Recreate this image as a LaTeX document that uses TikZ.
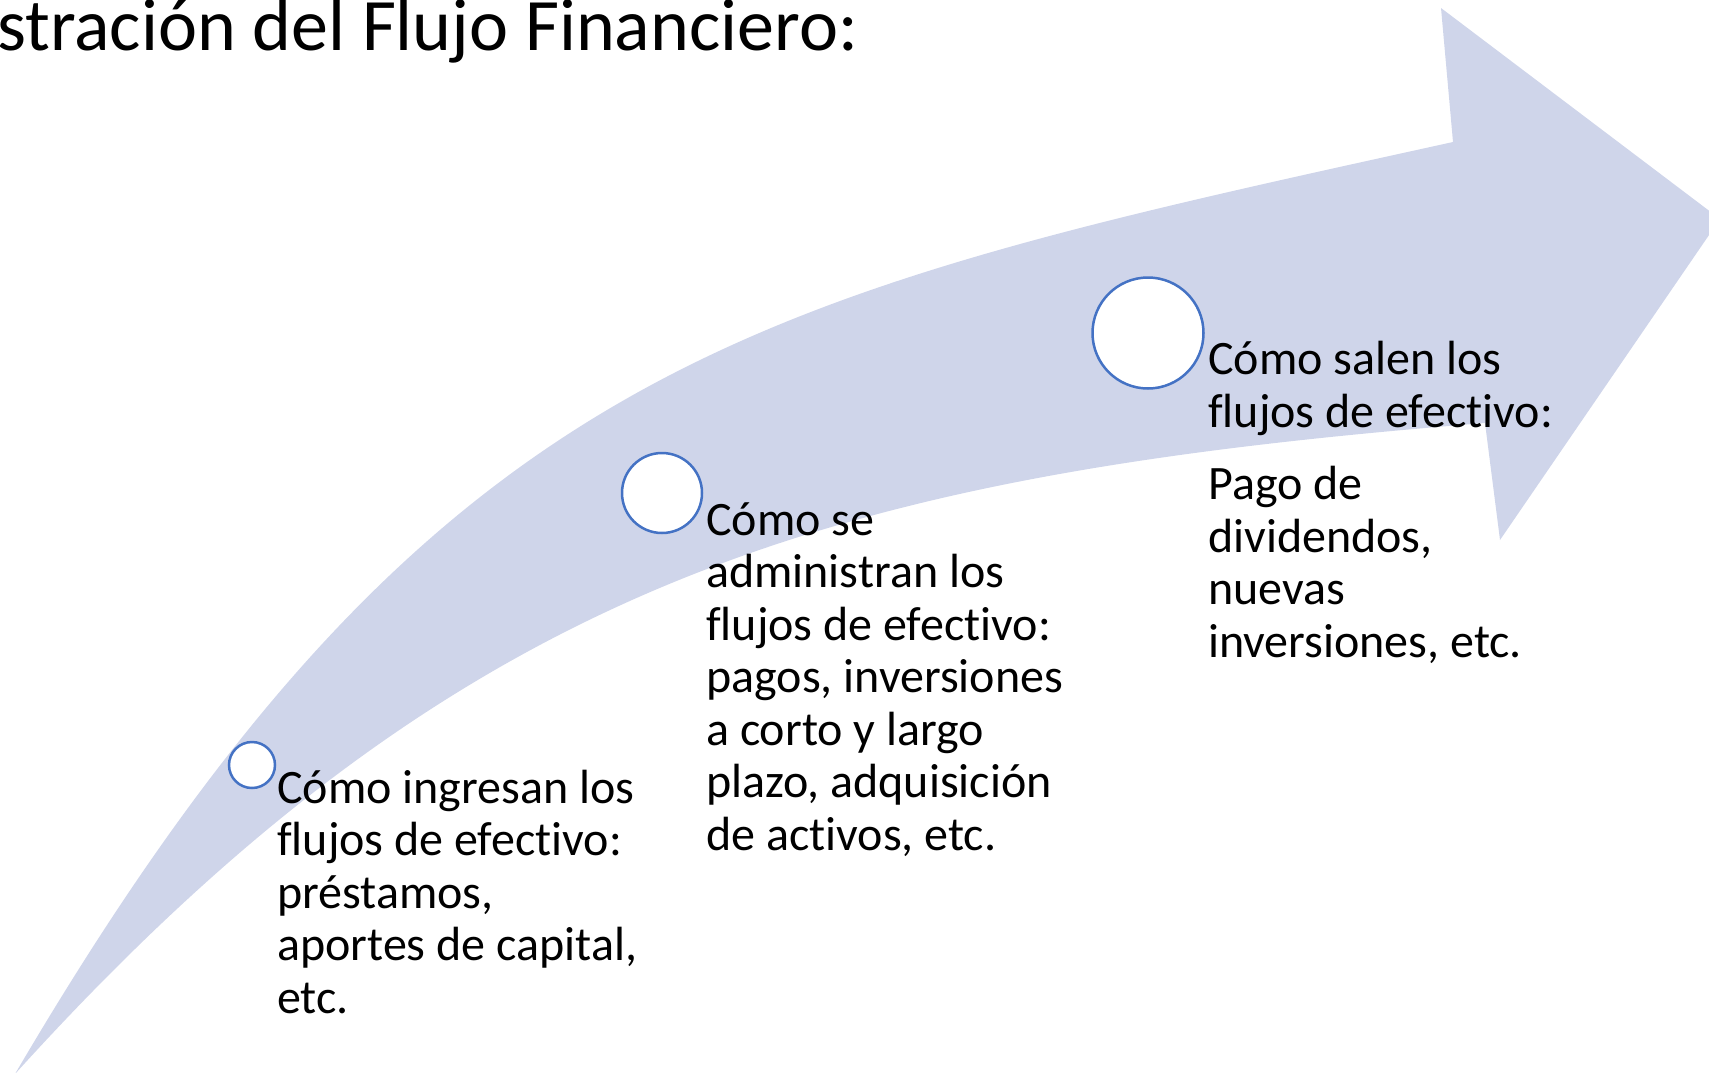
\documentclass[tikz,border=0pt]{standalone}
\usepackage{fontspec}
\setmainfont{Carlito}[Ligatures=NoCommon]
\definecolor{flujo}{HTML}{CFD5EA}
\definecolor{anillo}{HTML}{4472C4}
\begin{document}
\begin{tikzpicture}[x=1pt,y=-1pt,
  hito/.style={circle,draw=anillo,line width=2.5pt,fill=white,inner sep=0pt},
  txt/.style={anchor=base west,align=left,inner sep=0pt,font=\fontsize{48}{52.5}\selectfont}]
\useasboundingbox (0,0) rectangle (1709,1072);
\clip (0,0) rectangle (1709,1072);
% flecha curva
\fill[flujo] (15,1074) .. controls (435,358) and (753,296) .. (1453,142)
 -- (1441,8) -- (1720,219) -- (1500,540) -- (1485,423)
 .. controls (835,475) and (465,577) .. (15,1074) -- cycle;
\node[anchor=base west,inner sep=0pt,font=\fontsize{74}{80}\selectfont] (titulo) at (-3,50) {stración del Flujo Financiero:};
\foreach \n/\p/\d in {c1/{252,765}/46, c2/{662,493}/80, c3/{1148,333}/111}
  \node[hito,minimum size=\d pt] (\n) at (\p) {};
% la linea base es la ultima linea
\node[txt] (t1) at (277,1013) {Cómo ingresan los\\flujos de efectivo:\\préstamos,\\aportes de capital,\\etc.};
\node[txt] (t2) at (706,850) {Cómo se\\administran los\\flujos de efectivo:\\pagos, inversiones\\a corto y largo\\plazo, adquisición\\de activos, etc.};
\node[txt] (t3) at (1208,657) {Cómo salen los\\flujos de efectivo:\\[20pt]Pago de\\dividendos,\\nuevas\\inversiones, etc.};
\end{tikzpicture}
\end{document}
